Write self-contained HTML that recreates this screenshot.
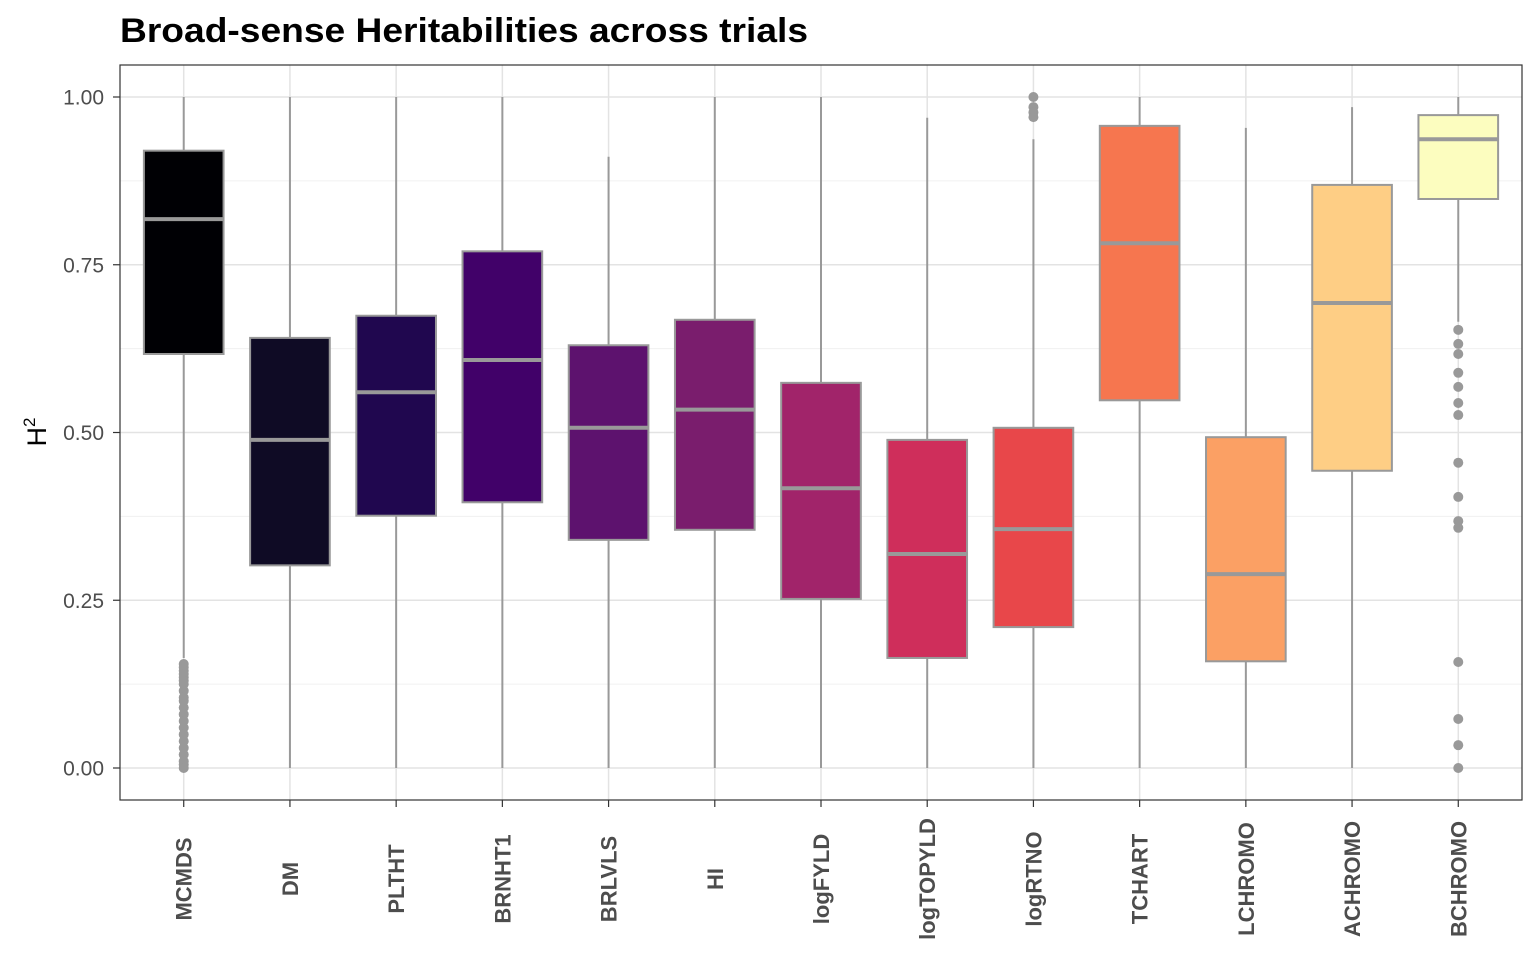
<!DOCTYPE html>
<html><head><meta charset="utf-8">
<style>
html,body{margin:0;padding:0;background:#fff;}
svg text{font-family:"Liberation Sans",Arial,sans-serif;}
</style></head>
<body>
<svg id="chart" width="1536" height="960" xmlns="http://www.w3.org/2000/svg">
<text x="120" y="42" font-size="34" font-weight="bold" fill="#000" textLength="688" lengthAdjust="spacingAndGlyphs">Broad-sense Heritabilities across trials</text>
<g id="grid"></g>
<g id="marks"></g>
<rect x="120" y="65" width="1402" height="735" fill="none" stroke="#333" stroke-width="1.2"/>
<g id="axes"></g>
<text transform="translate(46,432) rotate(-90)" text-anchor="middle" font-size="27" fill="#000">H<tspan font-size="17" dy="-11">2</tspan></text>
</svg>
<script>
const categories=["MCMDS","DM","PLTHT","BRNHT1","BRLVLS","HI","logFYLD","logTOPYLD","logRTNO","TCHART","LCHROMO","ACHROMO","BCHROMO"];
const whiskerLow=[0.164,0,0,0,0,0,0,0,0,0,0,0,0.665];
const q1=[0.617,0.302,0.376,0.396,0.340,0.355,0.252,0.164,0.210,0.548,0.159,0.443,0.848];
const median=[0.818,0.489,0.560,0.608,0.507,0.534,0.417,0.319,0.356,0.782,0.289,0.693,0.937];
const q3=[0.920,0.641,0.674,0.770,0.630,0.668,0.574,0.489,0.507,0.957,0.493,0.869,0.973];
const whiskerHigh=[1.0,1.0,1.0,1.0,0.911,1.0,1.0,0.969,0.937,1.0,0.954,0.985,1.0];
const outliers=[
 [0.155,0.15,0.145,0.14,0.135,0.13,0.125,0.115,0.105,0.1,0.09,0.08,0.07,0.06,0.05,0.04,0.03,0.02,0.01,0.005,0],
 [],[],[],[],[],[],[],
 [1.0,0.985,0.977,0.970],
 [],[],[],
 [0.653,0.632,0.617,0.589,0.568,0.544,0.526,0.455,0.404,0.368,0.358,0.158,0.073,0.034,0]
];
const colors=["#000004","#0f0b25","#20074f","#410169","#5d126e","#7a1d6d","#a1246a","#cf2e5b","#e8474a","#f6764f","#fba064","#fece85","#fcfdbf"];
const yTicks=[0,0.25,0.5,0.75,1.0];
const yTickLabels=["0.00","0.25","0.50","0.75","1.00"];

const NS="http://www.w3.org/2000/svg";
const px0=120,pw=1402,step=pw/(categories.length-1+1.2);
const xPos=i=>px0+step*(0.6+i);
const yPos=v=>768-v*671;
function mk(tag,attrs,parent){const e=document.createElementNS(NS,tag);for(const k in attrs)e.setAttribute(k,attrs[k]);parent.appendChild(e);return e;}
const grid=document.getElementById('grid'),marks=document.getElementById('marks'),axes=document.getElementById('axes');
for(let i=0;i<yTicks.length-1;i++){const m=(yTicks[i]+yTicks[i+1])/2;
 const g=mk('line',{x1:120,x2:1522,y1:yPos(m),y2:yPos(m),stroke:'#f0f0f0','stroke-width':1},grid);
 
 }
yTicks.forEach((t,i)=>{
 const g=mk('line',{x1:120,x2:1522,y1:yPos(t),y2:yPos(t),stroke:'#e3e3e3','stroke-width':1.5},grid);
 
 
 const tk=mk('line',{x1:113,x2:120,y1:yPos(t),y2:yPos(t),stroke:'#333','stroke-width':1.2},axes);
 
 
 const tx=mk('text',{x:104,y:yPos(t)+7.5,'text-anchor':'end','font-size':21,fill:'#4d4d4d'},axes);
 tx.textContent=yTickLabels[i];
 
 
});
categories.forEach((c,i)=>{
 const x=xPos(i);
 const g=mk('line',{x1:x,x2:x,y1:65,y2:800,stroke:'#e3e3e3','stroke-width':1.5},grid);
 
 
 const grp=mk('g',{},marks);
 
 
 const w1=mk('line',{x1:x,x2:x,y1:yPos(whiskerHigh[i]),y2:yPos(q3[i]),stroke:'#999','stroke-width':2},grp);
 
 
 const w2=mk('line',{x1:x,x2:x,y1:yPos(q1[i]),y2:yPos(whiskerLow[i]),stroke:'#999','stroke-width':2},grp);
 
 
 const bw=step*0.75;
 const r=mk('rect',{x:x-bw/2,y:yPos(q3[i]),width:bw,height:yPos(q1[i])-yPos(q3[i]),fill:colors[i],stroke:'#999','stroke-width':2},grp);
 
 
 const md=mk('line',{x1:x-bw/2,x2:x+bw/2,y1:yPos(median[i]),y2:yPos(median[i]),stroke:'#999','stroke-width':4},grp);
 
 
 outliers[i].forEach(v=>{
  const p=mk('circle',{cx:x,cy:yPos(v),r:5,fill:'#999'},grp);
  
  
 });
 const tk=mk('line',{x1:x,x2:x,y1:800,y2:807,stroke:'#333','stroke-width':1.2},axes);
 
 
 const tx=mk('text',{transform:`translate(${x+8},879) rotate(-90)`,'text-anchor':'middle','font-size':22,'font-weight':'bold',fill:'#4d4d4d'},axes);
 tx.textContent=c;
 
 
});
</script>
</body></html>
